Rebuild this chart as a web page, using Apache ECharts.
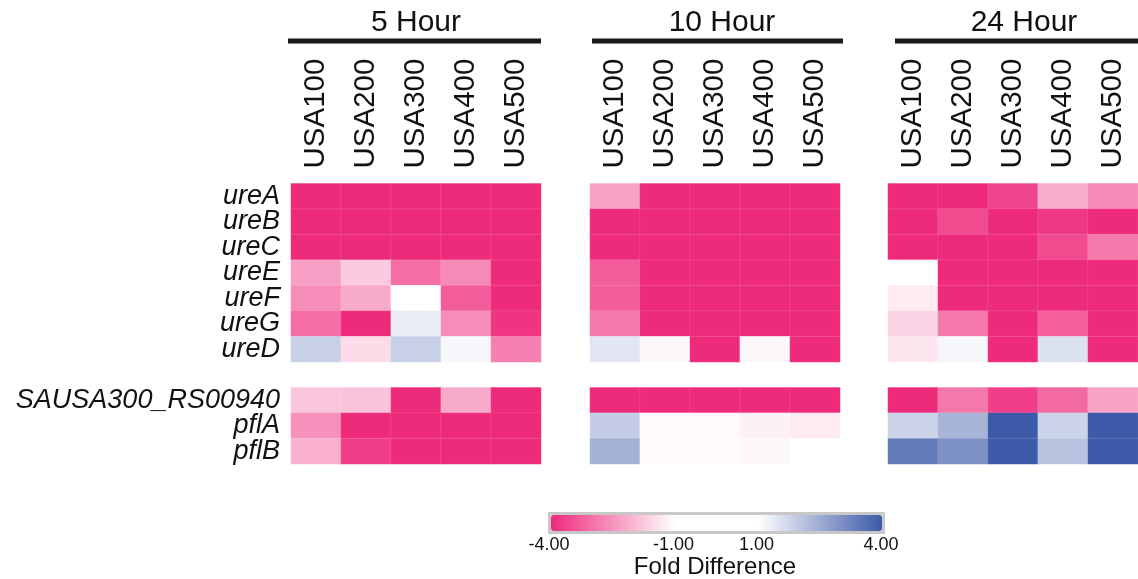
<!DOCTYPE html>
<html>
<head>
<meta charset="utf-8">
<script src="https://cdn.jsdelivr.net/npm/echarts@6/dist/echarts.min.js"></script>
<style>
  html, body { margin: 0; padding: 0; background: #fff; }
  #heatmap_chart { width: 1138px; height: 579px; }
</style>
</head>
<body>
<div id="heatmap_chart"></div>
<script>
// 数据
var timepoints = ['5 Hour', '10 Hour', '24 Hour']
var strains = ['USA100', 'USA200', 'USA300', 'USA400', 'USA500']
// '' is the blank spacer row between the ure genes and the others
var genes = ['ureA', 'ureB', 'ureC', 'ureE', 'ureF', 'ureG', 'ureD', '', 'SAUSA300_RS00940', 'pflA', 'pflB']

var fold5h = [
  [-4, -4, -4, -4, -4],
  [-4, -4, -4, -4, -4],
  [-4, -4, -4, -4, -4],
  [-2.35, -1.75, -3.05, -2.65, -4],
  [-2.6, -2.2, 0, -3.3, -4],
  [-3.05, -4, 1.35, -2.6, -3.85],
  [1.85, -1.5, 1.85, 1.15, -2.8],
  null,
  [-1.8, -1.85, -4, -2.2, -4],
  [-2.55, -4, -4, -4, -4],
  [-2.1, -3.7, -4, -4, -4],
]
var fold10h = [
  [-2.3, -4, -4, -4, -4],
  [-4, -4, -4, -4, -4],
  [-4, -4, -4, -4, -4],
  [-3.3, -4, -4, -4, -4],
  [-3.3, -4, -4, -4, -4],
  [-2.9, -4, -4, -4, -4],
  [1.45, -1.1, -4, -1.1, -4],
  null,
  [-4, -4, -4, -4, -4],
  [1.9, -1.05, -1.08, -1.2, -1.3],
  [2.4, -1.05, -1.07, -1.1, 0],
]
var fold24h = [
  [-4, -4, -3.6, -2.15, -2.65],
  [-4, -3.55, -4, -3.8, -4],
  [-4, -4, -4, -3.55, -2.9],
  [0, -4, -4, -4, -4],
  [-1.3, -4, -4, -4, -4],
  [-1.6, -2.9, -4, -3.25, -4],
  [-1.35, 1.15, -4, 1.55, -4],
  null,
  [-4, -2.9, -3.7, -3.1, -2.3],
  [1.8, 2.35, 4, 1.8, 4],
  [3.4, 3.0, 4, 2.1, 4],
]
var foldData = [fold5h, fold10h, fold24h]

var legendTicks = [-4, -1, 1, 4]

var heatmap_chart = echarts.init(document.getElementById('heatmap_chart'))

var font = 'Liberation Sans, Arial, sans-serif'
var panelLeft = [291, 590, 888]
var panelWidth = 250
var panelTop = 183.5
var panelHeight = 280.5
var titleX = [416, 722, 1024]
var barX = [[288, 541], [592, 843], [895, 1138]]

function toCells(rows) {
  var out = []
  rows.forEach(function (row, y) {
    if (!row) return
    row.forEach(function (v, x) {
      out.push([x, y, v])
    })
  })
  return out
}

var grids = [], xAxes = [], yAxes = [], series = [], graphics = []
timepoints.forEach(function (name, i) {
  grids.push({ left: panelLeft[i], top: panelTop, width: panelWidth, height: panelHeight, outerBoundsMode: 'none' })
  xAxes.push({
    type: 'category',
    gridIndex: i,
    data: strains,
    position: 'top',
    axisLine: { show: false },
    axisTick: { show: false },
    splitLine: { show: false },
    axisLabel: { interval: 0, rotate: -90, fontSize: 29.5, margin: 15, color: '#111', fontFamily: font },
  })
  yAxes.push({
    type: 'category',
    gridIndex: i,
    data: genes,
    inverse: true,
    axisLine: { show: false },
    axisTick: { show: false },
    splitLine: { show: false },
    axisLabel: {
      show: i === 0,
      interval: 0,
      fontSize: 27,
      fontStyle: 'italic',
      margin: 11,
      color: '#111',
      fontFamily: font,
    },
  })
  series.push({
    name: name,
    type: 'heatmap',
    xAxisIndex: i,
    yAxisIndex: i,
    data: toCells(foldData[i]),
    itemStyle: { borderColor: 'rgba(255,255,255,0.18)', borderWidth: 0.6 },
    emphasis: { disabled: true },
  })
  graphics.push({
    type: 'text',
    x: titleX[i],
    y: 8,
    style: {
      text: name,
      fill: '#111',
      font: '30px ' + font,
      textAlign: 'center',
      textVerticalAlign: 'top',
    },
  })
  graphics.push({
    type: 'line',
    shape: { x1: barX[i][0], y1: 41, x2: barX[i][1], y2: 41 },
    style: { stroke: '#1a1a1a', lineWidth: 5 },
  })
})

// legend axis grid (colour bar scale)
grids.push({ left: 549, top: 513, width: 332, height: 18, outerBoundsMode: 'none' })
xAxes.push({
  type: 'value',
  gridIndex: 3,
  min: -4,
  max: 4,
  interval: 1,
  position: 'bottom',
  axisLine: { show: false, onZero: false },
  axisTick: { show: false },
  splitLine: { show: false },
  axisLabel: {
    fontSize: 18,
    margin: 5,
    color: '#111',
    fontFamily: font,
    formatter: function (v) {
      return legendTicks.indexOf(v) >= 0 ? v.toFixed(2) : ''
    },
  },
  name: 'Fold Difference',
  nameLocation: 'middle',
  nameGap: 23,
  nameTextStyle: { fontSize: 24, color: '#111', fontFamily: font },
})
yAxes.push({ type: 'value', gridIndex: 3, min: 0, max: 1, show: false })

option = {
  backgroundColor: '#fff',
  animation: false,
  grid: grids,
  xAxis: xAxes,
  yAxis: yAxes,
  visualMap: {
    type: 'continuous',
    min: -4,
    max: 4,
    seriesIndex: [0, 1, 2],
    orient: 'horizontal',
    left: 548,
    top: 512,
    itemWidth: 16,
    itemHeight: 331,
    calculable: false,
    hoverLink: false,
    text: null,
    padding: 1.5,
    borderColor: '#c8c8c8',
    borderWidth: 3,
    inRange: {
      color: ['#ee2a7b', '#f471a7', '#f9b8d3', '#ffffff', '#ffffff', '#ffffff', '#bec8e2', '#7e91c5', '#3d5aa8'],
    },
  },
  graphic: graphics,
  series: series,
}
heatmap_chart.setOption(option)

window.addEventListener('resize', function () {
  heatmap_chart.resize()
})
</script>
</body>
</html>
